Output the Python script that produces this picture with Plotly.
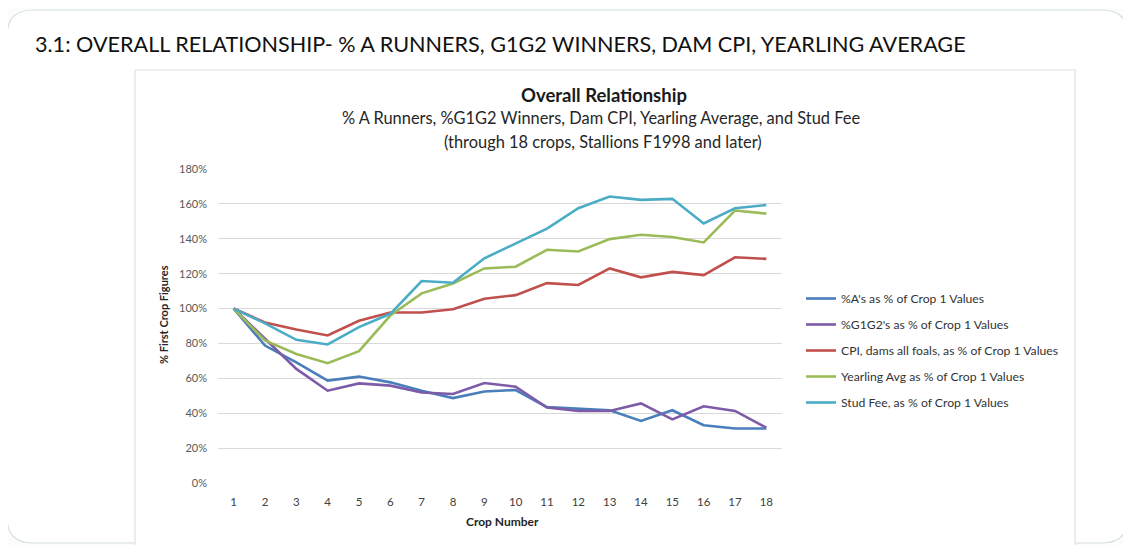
import plotly.graph_objects as go

crops = list(range(1, 19))
pct_a = [100, 78.8, 69.2, 58.7, 61.0, 57.7, 52.9, 48.7, 52.5, 53.3, 43.5, 42.7, 41.7, 35.6, 41.7, 33.1, 31.2, 31.2]
pct_g1g2 = [100, 82.7, 65.4, 52.9, 57.1, 55.8, 51.9, 51.0, 57.3, 55.2, 43.3, 41.3, 41.3, 45.6, 36.5, 44.0, 41.3, 31.7]
cpi = [100, 92.0, 88.0, 84.6, 93.0, 97.7, 97.7, 99.6, 105.6, 107.7, 114.6, 113.5, 123.0, 117.9, 121.0, 119.2, 129.4, 128.5]
yearling = [100, 81.7, 74.0, 68.7, 75.6, 96.0, 108.7, 114.4, 123.0, 124.0, 133.7, 132.7, 139.8, 142.3, 141.0, 137.9, 156.2, 154.4]
stud_fee = [100, 91.5, 82.1, 79.4, 89.4, 97.0, 115.8, 114.8, 128.8, 137.5, 145.8, 157.5, 164.2, 162.3, 162.9, 148.8, 157.5, 159.4]

series_names = [
    "%A's as % of Crop 1 Values",
    "%G1G2's as % of Crop 1 Values",
    "CPI, dams all foals, as % of Crop 1 Values",
    "Yearling Avg as % of Crop 1 Values",
    "Stud Fee, as % of Crop 1 Values",
]
series_values = [pct_a, pct_g1g2, cpi, yearling, stud_fee]
series_colors = ["#4A7EBB", "#7E5BA8", "#C0504D", "#9BBB59", "#4BACC6"]

OFF = 8  # page body margin
W, H = 1131, 545
L, R, T, B = 218 - OFF, 782 - OFF, 169 - OFF, 483 - OFF
pw, ph = R - L, B - T

def px(x):
    return (x - OFF - L) / pw

def py(y):
    return (B - (y - OFF)) / ph

fig = go.Figure()
for name, vals, col in zip(series_names, series_values, series_colors):
    fig.add_trace(go.Scatter(
        x=crops, y=[v / 100 for v in vals], mode="lines", name=name,
        legendgroup=name,
        line=dict(color=col, width=2.6),
    ))

def rounded_path(x0, y0, x1, y1, r):
    def P(x, y):
        return f"{px(x):.5f},{py(y):.5f}"
    return (f"M {P(x0 + r, y0)} L {P(x1 - r, y0)} "
            f"Q {P(x1, y0)} {P(x1, y0 + r)} L {P(x1, y1 - r)} "
            f"Q {P(x1, y1)} {P(x1 - r, y1)} L {P(x0 + r, y1)} "
            f"Q {P(x0, y1)} {P(x0, y1 - r)} L {P(x0, y0 + r)} "
            f"Q {P(x0, y0)} {P(x0 + r, y0)} Z")

shapes = [
    dict(type="path", xref="paper", yref="paper", layer="below",
         path=rounded_path(7, 10, 1128, 543, 26),
         line=dict(color="#D6DEE4", width=1.2), fillcolor="white"),
    dict(type="rect", xref="paper", yref="paper", layer="below",
         x0=px(135), x1=px(1075), y0=py(70), y1=py(560),
         line=dict(color="#E2E2E2", width=1.2), fillcolor="white"),
]

F = "Lato, sans-serif"
annotations = [
    dict(text="3.1: OVERALL RELATIONSHIP- % A RUNNERS, G1G2 WINNERS, DAM CPI, YEARLING AVERAGE",
         x=px(33), y=py(44), xref="paper", yref="paper", xanchor="left", yanchor="middle",
         showarrow=False, font=dict(family=F, size=21.6, color="#111111")),
    dict(text="<b>Overall Relationship</b>", x=px(604), y=py(95), xref="paper", yref="paper",
         xanchor="center", yanchor="middle", showarrow=False,
         font=dict(family=F, size=18.5, color="#1a1a1a")),
    dict(text="% A Runners, %G1G2 Winners, Dam CPI, Yearling Average, and Stud Fee",
         x=px(601), y=py(118), xref="paper", yref="paper",
         xanchor="center", yanchor="middle", showarrow=False,
         font=dict(family=F, size=16.4, color="#262626")),
    dict(text="(through 18 crops, Stallions F1998 and later)",
         x=px(603), y=py(141), xref="paper", yref="paper",
         xanchor="center", yanchor="middle", showarrow=False,
         font=dict(family=F, size=16.4, color="#262626")),
    dict(text="<b>% First Crop Figures</b>", x=px(163), y=py(315), xref="paper", yref="paper",
         xanchor="center", yanchor="middle", showarrow=False, textangle=-90,
         font=dict(family=F, size=11, color="#262626")),
    dict(text="<b>Crop Number</b>", x=px(502), y=py(521), xref="paper", yref="paper",
         xanchor="center", yanchor="middle", showarrow=False,
         font=dict(family=F, size=12, color="#262626")),
]

fig.update_layout(
    width=W, height=H,
    margin=dict(l=L, r=W - R, t=T, b=H - B, pad=0),
    paper_bgcolor="#FBFCFC", plot_bgcolor="rgba(0,0,0,0)",
    shapes=shapes, annotations=annotations,
    showlegend=True,
    legend=dict(x=px(801), y=py(284), xref="paper", yref="paper", xanchor="left", yanchor="top",
                bgcolor="rgba(0,0,0,0)", tracegroupgap=7, itemwidth=30,
                font=dict(family=F, size=12.2, color="#333333")),
    xaxis=dict(range=[0.5, 18.5], tickmode="array", tickvals=crops, ticktext=[str(c) for c in crops],
               showgrid=False, zeroline=False, showline=False, ticks="", ticklabelstandoff=10,
               tickfont=dict(family=F, size=11.5, color="#404040")),
    yaxis=dict(range=[0, 1.8], dtick=0.2, tickformat=".0%", showgrid=True, gridcolor="#D9D9D9",
               gridwidth=1, zeroline=False, showline=False, ticks="", ticklabelstandoff=10,
               tickfont=dict(family=F, size=11, color="#595959")),
)

fig.write_html("out.html")
